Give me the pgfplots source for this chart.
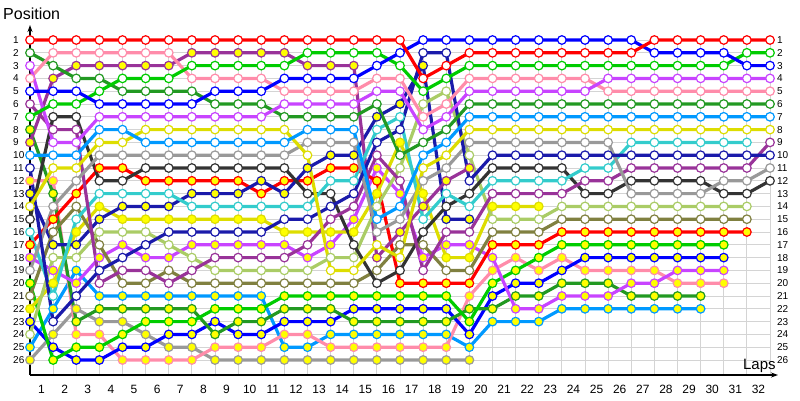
\documentclass[border=0pt]{standalone}
\usepackage{pgfplots}
\pgfplotsset{compat=1.18}
\usepackage{pgfplotstable}
\usepackage{fontspec}
\setmainfont{Liberation Sans}
\usetikzlibrary{arrows.meta}
\definecolor{cR}{HTML}{FF0000}
\definecolor{cPk}{HTML}{FF8CAA}
\definecolor{cPu}{HTML}{993399}
\definecolor{cG}{HTML}{00CC00}
\definecolor{cF}{HTML}{229922}
\definecolor{cB}{HTML}{0000FF}
\definecolor{cDB}{HTML}{1A1AAA}
\definecolor{cV}{HTML}{C844FF}
\definecolor{cA}{HTML}{0099FF}
\definecolor{cY}{HTML}{DDDD00}
\definecolor{cGr}{HTML}{999999}
\definecolor{cK}{HTML}{333333}
\definecolor{cT}{HTML}{33CCCC}
\definecolor{cO}{HTML}{808040}
\definecolor{cLG}{HTML}{AACC66}
\definecolor{cFill}{HTML}{FFFF00}
\definecolor{gridc}{HTML}{D4D4D4}

\pgfplotstableread{
c Rh Ry Pkh Pky Puh Puy Gh Gy Fh Fy Bh By DBh DBy Vh Vy Ah Ay Yh Yy Grh Gry Kh Th Oh LG
0 1 17 4 12 6 9 7 20 2 8 5 23 11 13 3 18 10 25 14 22 19 26 15 16 21 24
1 1 15 2 12 8 4 6 26 3 13 5 25 23 17 9 19 10 22 11 20 14 24 7 21 16 18
2 1 13 2 24 8 3 6 25 4 23 5 26 21 17 9 20 10 19 11 16 12 22 7 15 14 18
3 1 11 2 24 20 3 5 25 4 22 6 26 19 15 7 18 8 21 9 14 10 23 12 13 17 16
4 1 11 2 26 19 3 4 24 5 22 6 25 18 14 7 17 8 21 9 15 10 23 12 13 20 16
5 1 12 2 26 19 3 4 23 5 22 6 25 17 14 7 18 9 21 8 15 10 24 11 13 20 16
6 1 12 2 26 20 3 4 23 5 22 6 24 16 14 7 18 9 21 8 15 10 25 11 13 19 17
7 1 12 4 26 19 2 3 23 5 22 6 24 16 13 7 17 9 21 8 15 10 25 11 14 20 18
8 1 12 4 25 18 2 3 22 6 24 5 23 16 13 7 17 9 21 8 15 10 26 11 14 20 19
9 1 12 4 25 18 2 3 22 6 23 5 24 16 13 7 17 9 21 8 15 10 26 11 14 20 19
10 1 13 4 25 18 2 3 22 6 23 5 24 16 12 7 17 9 21 8 15 10 26 11 14 20 19
11 1 12 5 24 18 2 3 21 7 22 4 23 15 13 6 17 9 25 8 16 10 26 11 14 20 19
12 1 12 5 24 17 3 2 21 7 22 4 23 15 11 6 18 8 25 10 16 9 26 13 14 20 19
13 1 11 5 25 15 3 2 21 7 22 4 23 14 10 6 17 8 24 19 16 9 26 13 12 20 18
14 1 11 5 25 14 3 2 21 7 23 4 22 13 10 6 15 8 24 19 16 9 26 17 12 20 18
15 1 12 4 25 10 18 2 21 6 23 3 22 9 7 5 11 15 24 17 13 16 26 20 8 19 14
16 1 20 4 25 12 16 3 21 10 23 2 22 8 6 5 13 14 24 18 9 15 26 19 7 17 11
17 4 20 7 25 19 14 5 21 9 23 1 22 2 3 8 18 10 24 11 13 12 26 16 15 17 6
18 3 20 6 25 16 12 4 21 8 23 1 22 2 15 7 17 9 24 10 18 11 26 14 13 19 5
19 2 20 4 21 16 11 3 23 6 22 1 24 12 15 5 17 7 25 8 18 9 26 13 14 19 10
20 2 17 4 19 13 nan 3 20 6 22 1 21 10 nan 5 18 7 23 8 14 9 nan 11 12 16 15
21 2 17 4 18 13 nan 3 19 6 21 1 20 10 nan 5 22 7 23 8 14 9 nan 11 12 16 15
22 2 17 4 19 13 nan 3 18 6 21 1 20 10 nan 5 22 7 23 8 14 9 nan 11 12 16 15
23 2 16 4 18 13 nan 3 17 6 20 1 19 10 nan 5 21 7 22 8 nan 9 nan 11 12 15 14
24 2 16 4 19 12 nan 3 17 6 20 1 18 10 nan 5 21 7 22 8 nan 9 nan 13 11 15 14
25 2 16 5 19 12 nan 3 17 6 20 1 18 10 nan 4 21 7 22 8 nan 9 nan 13 11 15 14
26 2 16 5 19 11 nan 3 17 6 21 1 18 10 nan 4 20 7 22 8 nan 13 nan 12 9 15 14
27 1 16 5 19 11 nan 3 17 6 21 2 18 10 nan 4 20 7 22 8 nan 13 nan 12 9 15 14
28 1 16 5 20 11 nan 3 17 6 21 2 18 10 nan 4 19 7 22 8 nan 13 nan 12 9 15 14
29 1 16 5 20 11 nan 3 17 6 21 2 18 10 nan 4 19 7 22 8 nan 13 nan 12 9 15 14
30 1 16 5 20 11 nan 3 17 6 nan 2 18 10 nan 4 19 7 nan 8 nan 12 nan 13 9 15 14
31 1 16 5 nan 11 nan 2 nan 6 nan 3 nan 10 nan 4 nan 7 nan 8 nan 12 nan 13 9 15 14
32 1 nan 5 nan 9 nan 2 nan 6 nan 3 nan 10 nan 4 nan 7 nan 8 nan 11 nan 12 nan nan nan
}\data

\pgfplotsset{
  drv/.style 2 args={line width=3.2pt, color=#1, mark=*, mark size=4.3pt,
    mark options={solid, draw=#1, fill=#2, line width=1.2pt}},
}

\begin{document}
\begin{tikzpicture}[x=1pt,y=1pt]
\path[use as bounding box] (-30,-25) rectangle (770,375);
\begin{axis}[
  at={(0,0)}, anchor=south west,
  scale only axis, width=748pt, height=350pt,
  xmin=0, xmax=32.3459, ymin=-0.171875, ymax=27.171875,
  y dir=reverse,
  axis line style={draw=none},
  ticks=none,
  clip=false,
]
% grid
\pgfplotsinvokeforeach{0,...,32}{\draw[gridc, line width=1pt] (axis cs:#1,0.6) -- (axis cs:#1,27.171875);}
\pgfplotsinvokeforeach{1,...,26}{\draw[gridc, line width=1pt] (axis cs:0,#1) -- (axis cs:32,#1);}
% axis lines
\draw[black, line width=1.4pt, -{Stealth[length=7pt,width=5pt]}] (axis cs:0,27.171875) -- (axis cs:0,-0.171875);
\draw[black, line width=1.4pt, -{Stealth[length=7pt,width=5pt]}] (axis cs:0,27.171875) -- (axis cs:32.3459,27.171875);
% labels
\pgfplotsinvokeforeach{1,...,26}{\node[anchor=west, inner sep=0pt, font=\fontsize{10}{12}\selectfont] at (axis cs:-0.735,#1) {#1};}
\pgfplotsinvokeforeach{1,...,26}{\node[anchor=west, inner sep=0pt, font=\fontsize{10}{12}\selectfont] at (axis cs:32.3,#1) {#1};}
\pgfplotsinvokeforeach{1,...,32}{\node[inner sep=0pt, font=\fontsize{12}{14}\selectfont] at (axis cs:#1-0.5,28.27) {#1};}
\node[anchor=west, inner sep=0pt, font=\fontsize{16}{19}\selectfont] at (axis cs:-1.168,-1.03) {Position};
\node[anchor=base west, inner sep=0pt, font=\fontsize{15}{18}\selectfont] at (axis cs:30.83,26.78) {Laps};
% yellow-filled drivers
\addplot[drv={cGr}{cFill}] table[x=c,y=Gry]{\data};
\addplot[drv={cA}{cFill}] table[x=c,y=Ay]{\data};
\addplot[drv={cPk}{cFill}] table[x=c,y=Pky]{\data};
\addplot[drv={cB}{cFill}] table[x=c,y=By]{\data};
\addplot[drv={cF}{cFill}] table[x=c,y=Fy]{\data};
\addplot[drv={cG}{cFill}] table[x=c,y=Gy]{\data};
\addplot[drv={cV}{cFill}] table[x=c,y=Vy]{\data};
\addplot[drv={cR}{cFill}] table[x=c,y=Ry]{\data};
\addplot[drv={cY}{cFill}] table[x=c,y=Yy]{\data};
\addplot[drv={cDB}{cFill}] table[x=c,y=DBy]{\data};
\addplot[drv={cPu}{cFill}] table[x=c,y=Puy]{\data};
% hollow drivers
\addplot[drv={cO}{white}] table[x=c,y=Oh]{\data};
\addplot[drv={cLG}{white}] table[x=c,y=LG]{\data};
\addplot[drv={cK}{white}] table[x=c,y=Kh]{\data};
\addplot[drv={cT}{white}] table[x=c,y=Th]{\data};
\addplot[drv={cPu}{white}] table[x=c,y=Puh]{\data};
\addplot[drv={cGr}{white}] table[x=c,y=Grh]{\data};
\addplot[drv={cDB}{white}] table[x=c,y=DBh]{\data};
\addplot[drv={cY}{white}] table[x=c,y=Yh]{\data};
\addplot[drv={cA}{white}] table[x=c,y=Ah]{\data};
\addplot[drv={cF}{white}] table[x=c,y=Fh]{\data};
\addplot[drv={cPk}{white}] table[x=c,y=Pkh]{\data};
\addplot[drv={cV}{white}] table[x=c,y=Vh]{\data};
\addplot[drv={cG}{white}] table[x=c,y=Gh]{\data};
\addplot[drv={cB}{white}] table[x=c,y=Bh]{\data};
\addplot[drv={cR}{white}] table[x=c,y=Rh]{\data};
\end{axis}
\end{tikzpicture}
\end{document}
